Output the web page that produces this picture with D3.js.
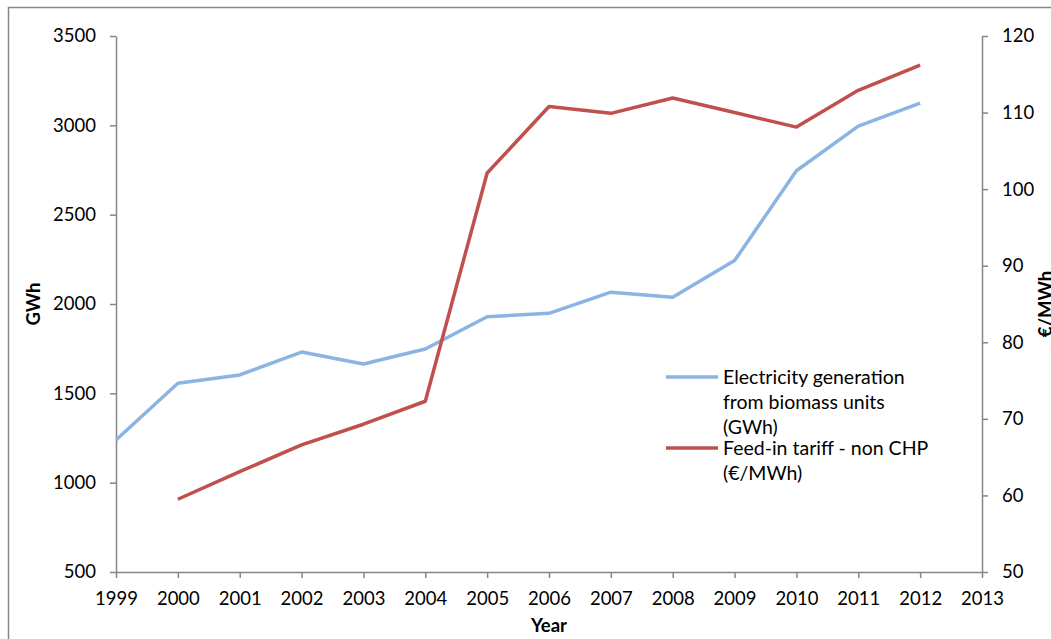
<!DOCTYPE html>
<html>
<head>
<meta charset="utf-8">
<script src="https://cdn.jsdelivr.net/npm/d3@7"></script>
<style>
  body { margin: 0; background: #fff; }
  svg text { font-family: Lato, "Open Sans", sans-serif; fill: #000; }
</style>
</head>
<body>
<div id="chart"></div>
<script>
// Biomass generation vs feed-in tariff
const years = [1999, 2000, 2001, 2002, 2003, 2004, 2005, 2006, 2007, 2008, 2009, 2010, 2011, 2012];
const generation = [1239, 1556, 1603, 1731, 1664, 1748, 1929, 1948, 2066, 2038, 2243, 2746, 2996, 3124];
const tariffYears = [2000, 2001, 2002, 2003, 2004, 2005, 2006, 2007, 2008, 2009, 2010, 2011, 2012];
const tariff = [59.5, 63.1, 66.6, 69.3, 72.3, 102.1, 110.8, 109.9, 111.9, 110.0, 108.1, 112.9, 116.2];
const leftTicks = [500, 1000, 1500, 2000, 2500, 3000, 3500];
const rightTicks = [50, 60, 70, 80, 90, 100, 110, 120];
const xTicks = d3.range(1999, 2014);

const w = 1051, h = 639;
const margin = { top: 36, right: 69, bottom: 67, left: 116 };

const svg = d3.select("#chart").append("svg")
    .attr("width", w)
    .attr("height", h);

// outer chart border (only left/top visible in the crop)
svg.append("path")
    .attr("d", `M8.5,${h} V7.5 H${w}`)
    .attr("fill", "none")
    .attr("stroke", "#868686")
    .attr("stroke-width", 1.5);

const x = d3.scaleLinear()
    .domain([1999, 2013])
    .range([margin.left, w - margin.right]);

const yL = d3.scaleLinear()
    .domain([500, 3500])
    .range([h - margin.bottom, margin.top]);

const yR = d3.scaleLinear()
    .domain([50, 120])
    .range([h - margin.bottom, margin.top]);

const axisColor = "#868686";

function styleAxis(g) {
    g.select(".domain").attr("stroke", axisColor).attr("stroke-width", 1.5);
    g.selectAll(".tick line").attr("stroke", axisColor).attr("stroke-width", 1.5);
    g.selectAll("text").style("font-size", "18.5px").attr("fill", "#000");
}

// Left axis
svg.append("g")
    .attr("transform", `translate(${margin.left},0)`)
    .call(d3.axisLeft(yL).tickValues(leftTicks).tickFormat(d3.format("d")).tickSize(6).tickSizeOuter(0).tickPadding(14))
    .call(styleAxis);

// Right axis
svg.append("g")
    .attr("transform", `translate(${w - margin.right},0)`)
    .call(d3.axisRight(yR).tickValues(rightTicks).tickSize(6).tickSizeOuter(0).tickPadding(14))
    .call(styleAxis);

// X axis
svg.append("g")
    .attr("transform", `translate(0,${h - margin.bottom})`)
    .call(d3.axisBottom(x).tickValues(xTicks).tickFormat(d3.format("d")).tickSize(6).tickSizeOuter(0).tickPadding(14))
    .call(styleAxis);

// Lines
const genLine = d3.line()
    .x((d, i) => x(years[i]))
    .y(d => yL(d));

const tarLine = d3.line()
    .x((d, i) => x(tariffYears[i]))
    .y(d => yR(d));

svg.append("path")
    .datum(generation)
    .attr("fill", "none")
    .attr("stroke", "#8CB4E3")
    .attr("stroke-width", 3.5)
    .attr("stroke-linejoin", "round")
    .attr("d", genLine);

svg.append("path")
    .datum(tariff)
    .attr("fill", "none")
    .attr("stroke", "#C0504D")
    .attr("stroke-width", 3.5)
    .attr("stroke-linejoin", "round")
    .attr("d", tarLine);

// Axis titles
svg.append("text")
    .attr("transform", `translate(40,${(margin.top + h - margin.bottom) / 2}) rotate(-90)`)
    .attr("text-anchor", "middle")
    .style("font-size", "18.5px")
    .style("font-weight", "bold")
    .text("GWh");

// right title is clipped by the image edge in the original too
svg.append("text")
    .attr("transform", `translate(1052,${(margin.top + h - margin.bottom) / 2}) rotate(-90)`)
    .attr("text-anchor", "middle")
    .style("font-size", "18.5px")
    .style("font-weight", "bold")
    .text("€/MWh");

svg.append("text")
    .attr("x", (margin.left + w - margin.right) / 2)
    .attr("y", 632)
    .attr("text-anchor", "middle")
    .style("font-size", "18.5px")
    .style("font-weight", "bold")
    .text("Year");

// Legend
const legend = [
    { color: "#8CB4E3", y: 377, lines: ["Electricity generation", "from biomass units", "(GWh)"] },
    { color: "#C0504D", y: 448, lines: ["Feed-in tariff - non CHP", "(€/MWh)"] }
];

const lg = svg.append("g");
legend.forEach(item => {
    lg.append("line")
        .attr("x1", 666).attr("x2", 718)
        .attr("y1", item.y).attr("y2", item.y)
        .attr("stroke", item.color)
        .attr("stroke-width", 3.5);
    item.lines.forEach((t, i) => {
        lg.append("text")
            .attr("x", 723)
            .attr("y", item.y + 7 + i * 25)
            .style("font-size", "19.5px")
            .text(t);
    });
});
</script>
</body>
</html>
